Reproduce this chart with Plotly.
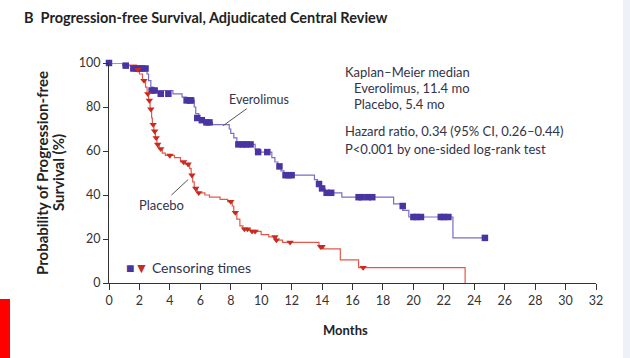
import plotly.graph_objects as go

# ---- data ----
evero_time = [0, 0.9, 1.5, 2.5, 2.6, 2.75, 2.9, 4.2, 4.8, 5.1, 5.6, 5.7, 5.9, 6.0, 6.5, 6.8,
              7.9, 8.0, 8.2, 8.4, 8.6, 9.6, 9.9, 10.7, 10.9, 11.1, 11.3, 11.5,
              13.5, 13.7, 13.9, 14.2, 15.3, 18.7, 19.3, 19.7, 22.6, 24.7]
evero_surv = [100, 98.8, 97.5, 95, 92, 89, 87.5, 86, 84.5, 83, 80, 77, 75, 74, 73, 72,
              70, 68, 66, 64, 63, 61, 59.5, 57, 55, 53, 51, 49,
              47, 45, 43, 41, 39, 36, 33, 30, 20.5, 20.5]
evero_cens_time = [0, 1.1, 1.6, 1.8, 2.0, 2.2, 2.4, 2.8, 3.0, 3.4, 3.9, 5.1, 5.3, 5.4, 5.8, 6.1,
                   6.4, 6.6, 8.5, 8.8, 9.0, 9.3, 9.8, 10.4, 11.2, 11.6, 11.8, 12.0,
                   13.8, 14.0, 14.3, 14.6, 16.4, 16.6, 17.0, 17.3, 19.3, 20.0, 20.2, 20.5,
                   21.8, 22.0, 22.3, 24.7]
evero_cens_surv = [100, 98.8, 97.5, 97.5, 97.5, 97.5, 97.5, 87.5, 87.5, 86, 86, 83, 83, 83, 75, 74,
                   73, 73, 63, 63, 63, 63, 59.5, 59.5, 53, 49, 49, 49,
                   45, 43, 41, 41, 39, 39, 39, 39, 35, 30, 30, 30,
                   30, 30, 30, 20.5]

placebo_time = [0, 1.2, 1.8, 2.0, 2.2, 2.4, 2.5, 2.6, 2.7, 2.8, 2.85, 2.95, 3.05, 3.15, 3.3, 3.5, 3.7,
                4.3, 4.7, 5.0, 5.3, 5.4, 5.5, 5.6, 5.8, 6.3, 6.6, 7.3, 7.8, 8.1, 8.2, 8.4, 8.6, 8.8,
                9.3, 10.0, 10.5, 11.0, 11.4, 13.8, 14.1, 15.2, 16.4, 23.4]
placebo_surv = [100, 99, 97, 95, 92, 89, 86, 83, 79, 75, 72, 69, 66, 63, 61, 59, 58,
                57, 55, 54, 52, 49, 46, 43, 41, 40, 39, 38, 37, 35, 32, 29, 26, 24.5,
                23.5, 22, 21, 19.5, 18.5, 16.5, 15.5, 10.5, 7, 0]
placebo_cens_time = [1.9, 2.3, 2.55, 2.65, 2.75, 2.9, 3.0, 3.1, 3.2, 3.4, 4.0, 4.9, 5.2, 5.45,
                     5.7, 5.9, 8.0, 8.3, 8.9, 9.1, 9.4, 9.6, 10.9, 11.0, 11.9, 13.9, 14.0, 16.7]
placebo_cens_surv = [97, 92, 86, 83, 79, 72, 69, 66, 63, 61, 58, 55, 54, 49,
                     43, 41, 37, 32, 24.5, 24.5, 23.5, 23.5, 21, 19.5, 18.5, 16.5, 16.5, 7]

x_ticks = list(range(0, 33, 2))
y_ticks = [0, 20, 40, 60, 80, 100]

EV_LINE, EV_MARK = "#7b6cc4", "#4a34a2"
PL_LINE, PL_MARK = "#e2594c", "#c92a1f"
FONT = "Lato"
TXT = "#33334a"

fig = go.Figure()
fig.add_trace(go.Scatter(x=evero_time, y=evero_surv, mode="lines", line=dict(color=EV_LINE, width=1.2, shape="hv"),
                         cliponaxis=False, showlegend=False, hoverinfo="skip"))
fig.add_trace(go.Scatter(x=placebo_time, y=placebo_surv, mode="lines", line=dict(color=PL_LINE, width=1.2, shape="hv"),
                         cliponaxis=False, showlegend=False, hoverinfo="skip"))
fig.add_trace(go.Scatter(x=evero_cens_time, y=evero_cens_surv, mode="markers",
                         marker=dict(symbol="square", size=6.5, color=EV_MARK), cliponaxis=False, showlegend=False))
fig.add_trace(go.Scatter(x=placebo_cens_time, y=placebo_cens_surv, mode="markers",
                         marker=dict(symbol="triangle-down", size=6.5, color=PL_MARK), cliponaxis=False, showlegend=False))

L, R, T, B = 109, 34, 63, 75
W, H = 630, 358
pw, ph = W - L - R, H - T - B
def px(x): return (x - L) / pw
def py(y): return (H - B - y) / ph

ann = []
ann.append(dict(x=px(22), y=py(17), xref="paper", yref="paper", xanchor="left", yanchor="middle", showarrow=False,
                text="<b>B  Progression-free Survival, Adjudicated Central Review</b>",
                font=dict(family=FONT, size=14.5, color="#222")))
lines = [(343, 72, "Kaplan–Meier median"), (352, 88, "Everolimus, 11.4 mo"), (352, 104, "Placebo, 5.4 mo"),
         (343, 131, "Hazard ratio, 0.34 (95% CI, 0.26–0.44)"), (343, 149, "P<0.001 by one-sided log-rank test")]
for x, y, t in lines:
    ann.append(dict(x=px(x), y=py(y), xref="paper", yref="paper", xanchor="left", yanchor="middle", showarrow=False,
                    text=t, font=dict(family=FONT, size=13, color=TXT)))
ann.append(dict(x=7.5, y=71.5, xref="x", yref="y", text="Everolimus", showarrow=True, arrowhead=0, arrowwidth=1,
                arrowcolor="#555", ax=36, ay=-26, font=dict(family=FONT, size=12.5, color=TXT)))
ann.append(dict(x=5.2, y=47, xref="x", yref="y", text="Placebo", showarrow=True, arrowhead=0, arrowwidth=1,
                arrowcolor="#555", ax=-27, ay=25, font=dict(family=FONT, size=13, color=TXT)))
ann.append(dict(x=px(124), y=py(267), xref="paper", yref="paper", xanchor="left", yanchor="middle", showarrow=False,
                text=f"<span style='color:{EV_MARK}'>■</span><span style='color:{PL_MARK}'>▼</span> Censoring times",
                font=dict(family=FONT, size=14, color=TXT)))
ann.append(dict(x=px(345), y=py(330), xref="paper", yref="paper", xanchor="center", yanchor="middle", showarrow=False,
                text="<b>Months</b>", font=dict(family=FONT, size=13, color="#222")))
for xpos, t in [(42, "<b>Probability of Progression-free</b>"), (58, "<b>Survival (%)</b>")]:
    ann.append(dict(x=px(xpos), y=py(173), xref="paper", yref="paper", xanchor="center", yanchor="middle",
                    showarrow=False, textangle=-90, text=t, font=dict(family=FONT, size=15, color="#222")))

shapes = [
    dict(type="rect", xref="paper", yref="paper", x0=px(0), x1=px(10), y0=py(358), y1=py(299),
         fillcolor="#ff0000", line=dict(width=0), layer="below"),
    dict(type="rect", xref="paper", yref="paper", x0=px(623), x1=px(630), y0=py(358), y1=py(0),
         fillcolor="#eef2f8", line=dict(width=0), layer="below"),
]

fig.update_layout(
    width=W, height=H, margin=dict(l=L, r=R, t=T, b=B),
    plot_bgcolor="white", paper_bgcolor="white",
    annotations=ann, shapes=shapes, showlegend=False,
    xaxis=dict(range=[0, 32], tickvals=x_ticks, showgrid=False, zeroline=False, showline=True,
               linecolor="#333", linewidth=1, ticks="outside", ticklen=6, tickcolor="#333",
               tickfont=dict(family=FONT, size=12.5, color="#333")),
    yaxis=dict(range=[0, 100], tickvals=y_ticks, showgrid=False, zeroline=False, showline=True,
               linecolor="#333", linewidth=1, ticks="outside", ticklen=5, tickcolor="#333",
               tickfont=dict(family=FONT, size=12.5, color="#333")),
)
fig.write_html("out.html", config={"displayModeBar": False},
               post_script="document.body.style.margin='0';document.body.style.overflow='hidden';")
